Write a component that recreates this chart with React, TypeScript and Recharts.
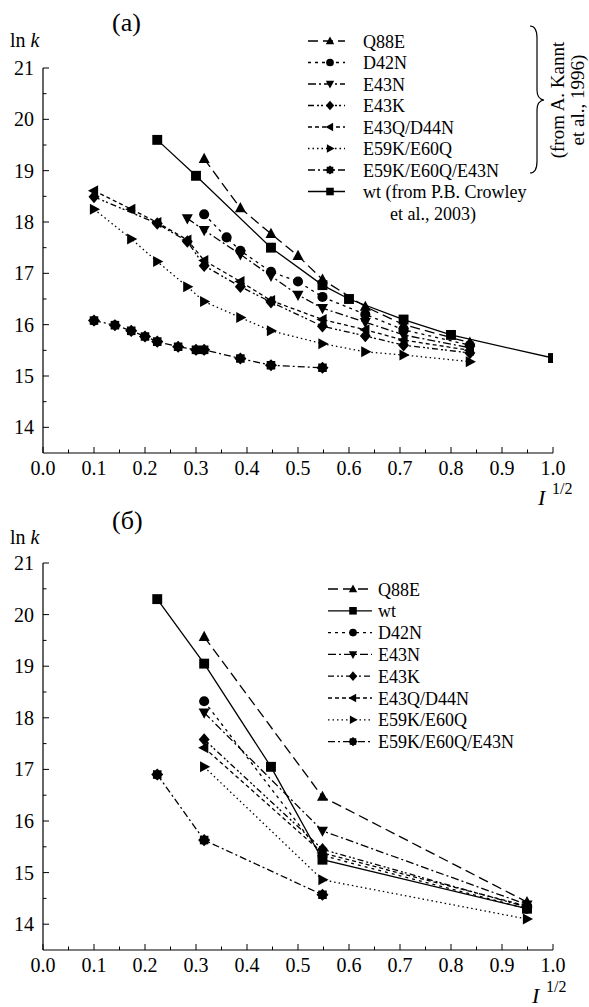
import React from "react";
import { LineChart, Line, XAxis, YAxis, Legend } from "recharts";

const FONT = "Liberation Serif, DejaVu Serif, serif";

// axis ticks
const xTicks = [0, 0.05, 0.1, 0.15, 0.2, 0.25, 0.3, 0.35, 0.4, 0.45, 0.5, 0.55, 0.6, 0.65, 0.7, 0.75, 0.8, 0.85, 0.9, 0.95, 1.0];
const yTicks = [14, 14.5, 15, 15.5, 16, 16.5, 17, 17.5, 18, 18.5, 19, 19.5, 20, 20.5, 21];

// panel (a)
const aQ88E_x = [0.316, 0.387, 0.447, 0.5, 0.548, 0.632, 0.707, 0.837];
const aQ88E_y = [19.23, 18.27, 17.77, 17.34, 16.88, 16.35, 16.0, 15.65];
const aD42N_x = [0.316, 0.36, 0.387, 0.447, 0.5, 0.548, 0.632, 0.707, 0.837];
const aD42N_y = [18.15, 17.7, 17.44, 17.03, 16.84, 16.54, 16.2, 15.9, 15.6];
const aE43N_x = [0.283, 0.316, 0.387, 0.447, 0.5, 0.548, 0.632, 0.707, 0.837];
const aE43N_y = [18.07, 17.84, 17.37, 16.95, 16.58, 16.32, 16.05, 15.8, 15.55];
const aE43K_x = [0.1, 0.224, 0.283, 0.316, 0.387, 0.447, 0.548, 0.632, 0.707, 0.837];
const aE43K_y = [18.49, 17.97, 17.62, 17.15, 16.74, 16.44, 15.97, 15.78, 15.6, 15.45];
const aE43Q_x = [0.1, 0.173, 0.224, 0.283, 0.316, 0.387, 0.447, 0.548, 0.632, 0.707, 0.837];
const aE43Q_y = [18.61, 18.25, 17.99, 17.65, 17.25, 16.84, 16.47, 16.1, 15.9, 15.7, 15.5];
const aE59K_x = [0.1, 0.173, 0.224, 0.283, 0.316, 0.387, 0.447, 0.548, 0.632, 0.707, 0.837];
const aE59K_y = [18.25, 17.67, 17.23, 16.74, 16.45, 16.14, 15.88, 15.63, 15.47, 15.41, 15.28];
const aTriple_x = [0.1, 0.141, 0.173, 0.2, 0.224, 0.265, 0.3, 0.316, 0.387, 0.447, 0.548];
const aTriple_y = [16.08, 15.99, 15.88, 15.77, 15.67, 15.57, 15.51, 15.51, 15.34, 15.21, 15.16];
const aWt_x = [0.224, 0.3, 0.447, 0.548, 0.6, 0.707, 0.8, 1.0];
const aWt_y = [19.6, 18.9, 17.5, 16.77, 16.5, 16.1, 15.8, 15.35];

// panel (б)
const bX3 = [0.316, 0.548, 0.949];
const bQ88E_y = [19.57, 16.47, 14.43];
const bWt_x = [0.224, 0.316, 0.447, 0.548, 0.949];
const bWt_y = [20.3, 19.05, 17.05, 15.25, 14.3];
const bD42N_y = [18.32, 15.33, 14.3];
const bE43N_y = [18.1, 15.81, 14.38];
const bE43K_y = [17.58, 15.45, 14.33];
const bE43Q_y = [17.42, 15.38, 14.35];
const bE59K_y = [17.05, 14.86, 14.1];
const bTriple_x = [0.224, 0.316, 0.548];
const bTriple_y = [16.9, 15.63, 14.57];

const zip = (xs: number[], ys: number[]) => xs.map((x, i) => ({ x, y: ys[i] }));

const STYLE: Record<string, { shape: string; dash?: string }> = {
  Q88E: { shape: "up", dash: "10 5" },
  D42N: { shape: "circle", dash: "3 4" },
  E43N: { shape: "down", dash: "8 3 2 3" },
  E43K: { shape: "diamond", dash: "6 3 2 2 2 3" },
  "E43Q/D44N": { shape: "left", dash: "4 3" },
  "E59K/E60Q": { shape: "right", dash: "1.5 3" },
  "E59K/E60Q/E43N": { shape: "star", dash: "7 3 2 3" },
  wt: { shape: "square" },
};

function Marker({ cx, cy, shape, s = 5.5 }: any) {
  if (cx == null || cy == null) return null;
  let pts = "";
  if (shape === "up") pts = `${cx},${cy - s * 1.1} ${cx + s},${cy + s * 0.75} ${cx - s},${cy + s * 0.75}`;
  if (shape === "down") pts = `${cx},${cy + s * 1.1} ${cx + s},${cy - s * 0.75} ${cx - s},${cy - s * 0.75}`;
  if (shape === "left") pts = `${cx - s * 1.1},${cy} ${cx + s * 0.75},${cy - s} ${cx + s * 0.75},${cy + s}`;
  if (shape === "right") pts = `${cx + s * 1.1},${cy} ${cx - s * 0.75},${cy - s} ${cx - s * 0.75},${cy + s}`;
  if (shape === "diamond") pts = `${cx},${cy - s * 1.15} ${cx + s},${cy} ${cx},${cy + s * 1.15} ${cx - s},${cy}`;
  if (shape === "star") {
    const arr = [];
    for (let i = 0; i < 16; i++) {
      const r = i % 2 === 0 ? s * 1.1 : s * 0.85;
      const a = (Math.PI * i) / 8;
      arr.push(`${cx + r * Math.cos(a)},${cy + r * Math.sin(a)}`);
    }
    pts = arr.join(" ");
  }
  if (shape === "circle") return <circle cx={cx} cy={cy} r={s * 0.92} fill="#000" />;
  if (shape === "square") return <rect x={cx - s * 0.9} y={cy - s * 0.9} width={s * 1.8} height={s * 1.8} fill="#000" />;
  return <polygon points={pts} fill="#000" />;
}

const txt = { fontFamily: FONT, fill: "#000" };

function XTick({ x, y, payload }: any) {
  const v = payload.value;
  const major = Math.abs(v * 10 - Math.round(v * 10)) < 1e-6;
  return (
    <g>
      <line x1={x} x2={x} y1={y} y2={y - (major ? 6 : 3.5)} stroke="#000" strokeWidth={1} />
      {major && (
        <text x={x} y={y + 22} textAnchor="middle" fontSize={20} style={txt}>
          {v.toFixed(1)}
        </text>
      )}
    </g>
  );
}

function YTick({ x, y, payload }: any) {
  const v = payload.value;
  const major = Math.abs(v - Math.round(v)) < 1e-6;
  return (
    <g>
      <line x1={x} x2={x + (major ? 6 : 3.5)} y1={y} y2={y} stroke="#000" strokeWidth={1} />
      {major && (
        <text x={x - 9} y={y + 7} textAnchor="end" fontSize={20} style={txt}>
          {v}
        </text>
      )}
    </g>
  );
}

function makeLegend(names: string[], opts: { x0: number; x1: number; xm: number; xt: number; y0: number; dy: number; extra?: string }) {
  return () => (
    <svg width={289} height={220} style={{ display: "block" }}>
      {names.map((n, i) => {
        const st = STYLE[n];
        const y = opts.y0 + i * opts.dy;
        return (
          <g key={n}>
            <line x1={opts.x0} x2={opts.x1} y1={y} y2={y} stroke="#000" strokeWidth={1.3} strokeDasharray={st.dash} />
            <Marker cx={opts.xm} cy={y} shape={st.shape} s={4.2} />
            <text x={opts.xt} y={y + 6.5} fontSize={18} style={txt}>
              {n === "wt" && opts.extra ? "wt (from P.B. Crowley" : n}
            </text>
            {n === "wt" && opts.extra && (
              <text x={opts.xt + 27} y={y + 6.5 + opts.dy} fontSize={18} style={txt}>
                {opts.extra}
              </text>
            )}
          </g>
        );
      })}
    </svg>
  );
}

function Panel({ series, height, marginTop, marginBottom, legend, legendPos }: any) {
  return (
    <LineChart width={589} height={height} margin={{ top: marginTop, right: 36, bottom: marginBottom, left: 0 }}>
      <XAxis
        type="number"
        dataKey="x"
        domain={[0, 1]}
        ticks={xTicks}
        interval={0}
        tickSize={0}
        tickMargin={0}
        tickLine={false}
        height={30}
        allowDataOverflow
        axisLine={{ stroke: "#000", strokeWidth: 1.2 }}
        tick={(p: any) => <XTick {...p} />}
      />
      <YAxis
        type="number"
        dataKey="y"
        domain={[13.5, 21]}
        ticks={yTicks}
        interval={0}
        tickSize={0}
        tickMargin={0}
        tickLine={false}
        width={43}
        allowDataOverflow
        axisLine={{ stroke: "#000", strokeWidth: 1.2 }}
        tick={(p: any) => <YTick {...p} />}
      />
      <Legend
        layout="vertical"
        align="center"
        verticalAlign="middle"
        content={legend}
        wrapperStyle={{ left: legendPos.left, top: legendPos.top, width: 289, height: 220 }}
      />
      {series.map((s: any) => {
        const st = STYLE[s.name];
        return (
          <Line
            key={s.name}
            name={s.name}
            data={s.data}
            dataKey="y"
            type="linear"
            stroke="#000"
            strokeWidth={1.3}
            strokeDasharray={st.dash}
            isAnimationActive={false}
            dot={(p: any) => <Marker key={`${s.name}-${p.index}`} cx={p.cx} cy={p.cy} shape={st.shape} />}
            activeDot={false}
          />
        );
      })}
    </LineChart>
  );
}

export default function App() {
  const seriesA = [
    { name: "E59K/E60Q/E43N", data: zip(aTriple_x, aTriple_y) },
    { name: "E59K/E60Q", data: zip(aE59K_x, aE59K_y) },
    { name: "E43Q/D44N", data: zip(aE43Q_x, aE43Q_y) },
    { name: "E43K", data: zip(aE43K_x, aE43K_y) },
    { name: "E43N", data: zip(aE43N_x, aE43N_y) },
    { name: "D42N", data: zip(aD42N_x, aD42N_y) },
    { name: "Q88E", data: zip(aQ88E_x, aQ88E_y) },
    { name: "wt", data: zip(aWt_x, aWt_y) },
  ];
  const seriesB = [
    { name: "E59K/E60Q/E43N", data: zip(bTriple_x, bTriple_y) },
    { name: "E59K/E60Q", data: zip(bX3, bE59K_y) },
    { name: "E43Q/D44N", data: zip(bX3, bE43Q_y) },
    { name: "E43K", data: zip(bX3, bE43K_y) },
    { name: "E43N", data: zip(bX3, bE43N_y) },
    { name: "D42N", data: zip(bX3, bD42N_y) },
    { name: "wt", data: zip(bWt_x, bWt_y) },
    { name: "Q88E", data: zip(bX3, bQ88E_y) },
  ];

  const legendA = makeLegend(
    ["Q88E", "D42N", "E43N", "E43K", "E43Q/D44N", "E59K/E60Q", "E59K/E60Q/E43N", "wt"],
    { x0: 8, x1: 45, xm: 30, xt: 63, y0: 16, dy: 21.5, extra: "et al., 2003)" }
  );
  const legendB = makeLegend(
    ["Q88E", "wt", "D42N", "E43N", "E43K", "E43Q/D44N", "E59K/E60Q", "E59K/E60Q/E43N"],
    { x0: 28, x1: 72, xm: 53, xt: 78, y0: 26, dy: 21.8 }
  );

  return (
    <div style={{ position: "absolute", left: 0, top: 0, width: 589, height: 1007, background: "#fff", fontFamily: FONT }}>
      <div style={{ position: "absolute", left: 0, top: 0 }}>
        <Panel series={seriesA} height={500} marginTop={68} marginBottom={17} legend={legendA} legendPos={{ left: 300, top: 25 }} />
      </div>
      <div style={{ position: "absolute", left: 0, top: 500 }}>
        <Panel series={seriesB} height={507} marginTop={63} marginBottom={27} legend={legendB} legendPos={{ left: 300, top: 63 }} />
      </div>
      <svg width={589} height={1007} style={{ position: "absolute", left: 0, top: 0, pointerEvents: "none" }}>
        <g style={txt}>
          <text x={10} y={47} fontSize={20}>
            ln <tspan fontStyle="italic">k</tspan>
          </text>
          <text x={112} y={31} fontSize={26}>(a)</text>
          <text x={538} y={505} fontSize={22} fontStyle="italic">I</text>
          <text x={552} y={494} fontSize={16}>1/2</text>

          <text x={10} y={544} fontSize={20}>
            ln <tspan fontStyle="italic">k</tspan>
          </text>
          <text x={112} y={529} fontSize={26}>(б)</text>
          <text x={532} y={1003} fontSize={22} fontStyle="italic">I</text>
          <text x={546} y={992} fontSize={16}>1/2</text>

          <path
            d="M530,26 Q537,26 537,38 L537,90 Q537,99 544,100 Q537,101 537,110 L537,161 Q537,173 530,173"
            fill="none"
            stroke="#000"
            strokeWidth={1.2}
          />
          <text transform="translate(564,100) rotate(-90)" textAnchor="middle" fontSize={19}>(from A. Kannt</text>
          <text transform="translate(584,100) rotate(-90)" textAnchor="middle" fontSize={19}>et al., 1996)</text>
        </g>
      </svg>
    </div>
  );
}
